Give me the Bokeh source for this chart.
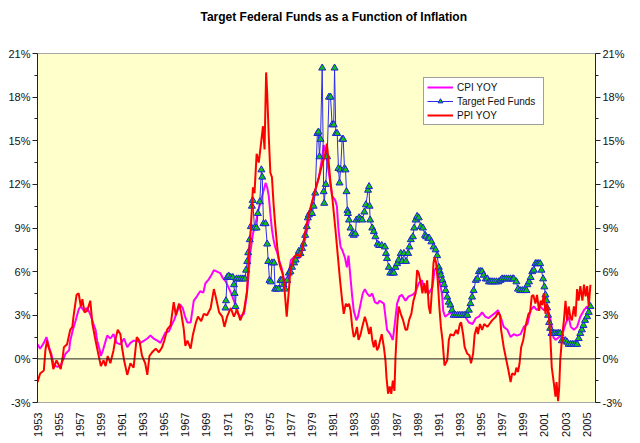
import math
from bokeh.plotting import figure
from bokeh.models import Range1d, LinearAxis, FixedTicker, Span, Legend, LegendItem, Title
from bokeh.embed import file_html
from bokeh.resources import INLINE

title_text = "Target Federal Funds as a Function of Inflation"
year_ticks = list(range(1953, 2006, 2))
pct_ticks = [-3, 0, 3, 6, 9, 12, 15, 18, 21]
pct_minor = [-1.5, 1.5, 4.5, 7.5, 10.5, 13.5, 16.5, 19.5]
pct_labels = {t: f"{t}%" for t in pct_ticks}

ppi_years = [
    1953.0, 1953.25, 1953.6, 1953.75, 1953.9, 1954.05, 1954.3, 1954.5, 1954.8, 1955.2,
    1955.4, 1955.5, 1955.8, 1956.1, 1956.3, 1956.4, 1956.7, 1956.9, 1957.1, 1957.25,
    1957.45, 1957.7, 1958.0, 1958.2, 1958.5, 1958.8, 1959.0, 1959.25, 1959.45, 1959.65,
    1959.9, 1960.2, 1960.35, 1960.6, 1960.85, 1961.0, 1961.2, 1961.5, 1961.8, 1962.1,
    1962.4, 1962.65, 1962.9, 1963.2, 1963.4, 1963.6, 1963.85, 1964.2, 1964.5, 1964.8,
    1965.0, 1965.3, 1965.6, 1965.9, 1966.1, 1966.4, 1966.6, 1966.85, 1967.0, 1967.2,
    1967.5, 1967.7, 1968.0, 1968.2, 1968.5, 1968.75, 1969.05, 1969.4, 1969.7, 1969.9,
    1970.2, 1970.5, 1970.7, 1970.95, 1971.3, 1971.6, 1971.9, 1972.2, 1972.55, 1972.85,
    1973.0, 1973.2, 1973.4, 1973.55, 1973.75, 1973.95, 1974.1, 1974.35, 1974.5, 1974.65,
    1974.75, 1974.9, 1975.05, 1975.2, 1975.35, 1975.5, 1975.7, 1975.85, 1976.0, 1976.2,
    1976.35, 1976.5, 1976.6, 1976.8, 1976.95, 1977.3, 1977.6, 1977.9, 1978.15, 1978.4,
    1978.7, 1979.0, 1979.3, 1979.65, 1980.0, 1980.2, 1980.4, 1980.55, 1980.75, 1980.9,
    1981.2, 1981.5, 1981.65, 1981.85, 1982.0, 1982.2, 1982.35, 1982.5, 1982.65, 1982.8,
    1982.95, 1983.1, 1983.25, 1983.4, 1983.6, 1983.75, 1984.0, 1984.2, 1984.4, 1984.55,
    1984.7, 1984.85, 1985.0, 1985.15, 1985.3, 1985.45, 1985.6, 1985.8, 1985.95, 1986.05,
    1986.2, 1986.35, 1986.5, 1986.65, 1986.8, 1986.9, 1987.05, 1987.2, 1987.4, 1987.6,
    1987.85, 1988.0, 1988.2, 1988.4, 1988.6, 1988.8, 1988.95, 1989.1, 1989.3, 1989.45,
    1989.6, 1989.75, 1989.9, 1990.05, 1990.2, 1990.35, 1990.5, 1990.6, 1990.75, 1990.9,
    1991.05, 1991.2, 1991.35, 1991.54, 1991.8, 1991.95, 1992.1, 1992.4, 1992.65, 1992.8,
    1993.0, 1993.12, 1993.3, 1993.45, 1993.7, 1993.9, 1994.05, 1994.25, 1994.4, 1994.6,
    1994.7, 1994.9, 1995.1, 1995.3, 1995.6, 1995.8, 1996.05, 1996.4, 1996.6, 1996.8,
    1996.9, 1997.15, 1997.4, 1997.6, 1997.8, 1997.95, 1998.2, 1998.35, 1998.5, 1998.65,
    1998.8, 1999.0, 1999.2, 1999.35, 1999.5, 1999.65, 1999.8, 1999.95, 2000.15, 2000.3,
    2000.5, 2000.65, 2000.8, 2000.95, 2001.1, 2001.25, 2001.4, 2001.55, 2001.7, 2001.9,
    2002.05, 2002.15, 2002.3, 2002.4, 2002.5, 2002.7, 2002.85, 2003.0, 2003.15, 2003.3,
    2003.45, 2003.6, 2003.8, 2003.95, 2004.1, 2004.25, 2004.4, 2004.6, 2004.75, 2004.9,
    2005.05, 2005.2, 2005.36,
]
ppi_values = [
    -1.6, -1.0, -0.8, 0.6, 1.25, 0.8, 0.2, -0.7, -0.1, -0.7,
    0.2, 0.8, 1.0, 2.0, 2.2, 2.85, 4.4, 4.5, 3.6, 4.1,
    3.2, 3.3, 4.0, 2.4, 1.25, 0.2, -0.5, -0.1, -0.5, 0.2,
    -0.3, 0.6, 1.25, 2.0, 1.7, 0.8, -0.1, -1.1, -0.3, -0.6,
    1.5, 1.25, 0.2, -0.3, -1.1, 0.2, 0.45, 0.7, 0.45, 0.8,
    1.25, 2.05, 2.3, 3.9, 3.0, 3.8, 3.2, 2.05, 0.9, 1.25,
    0.7, 1.6, 2.5, 2.9, 2.6, 3.1, 3.0, 3.5, 4.8, 4.2,
    3.2, 2.9, 2.2, 2.9, 3.5, 2.9, 3.4, 2.65, 3.3, 4.7,
    7.0, 8.9, 11.8, 11.4, 14.1, 13.5, 14.4, 16.0, 14.4, 19.7,
    18.3, 15.3, 12.8, 12.5, 10.7, 9.3, 7.7, 6.8, 6.3, 5.9,
    5.2, 3.8, 2.9, 4.7, 6.1, 7.0, 7.2, 7.0, 7.9, 8.9,
    10.0, 10.8, 11.6, 12.5, 13.5, 13.9, 14.8, 13.7, 12.1, 11.2,
    9.0, 6.6, 5.4, 4.0, 3.1, 3.8, 3.6, 3.8, 3.3, 2.2,
    1.5, 1.7, 2.2, 1.3, 1.7, 2.2, 2.9, 2.4, 1.7, 2.2,
    1.3, 0.8, 1.3, 0.6, 0.8, 1.3, 1.7, 0.8, -0.1, -1.3,
    -2.4, -1.9, -2.4, -1.5, -2.2, 0.1, 2.2, 3.6, 3.1, 2.7,
    2.0, 2.0, 2.7, 3.1, 4.0, 4.5, 6.1, 5.9, 5.2, 4.5,
    5.2, 4.5, 5.4, 3.6, 3.1, 4.7, 6.6, 7.0, 6.6, 5.4,
    3.6, 2.2, 1.3, -0.45, -0.1, 1.3, 1.7, 1.6, 2.0, 1.7,
    2.4, 2.5, 1.7, 0.8, 0.35, 0.25, -0.3, 0.35, 1.7, 2.2,
    1.7, 2.4, 2.0, 2.4, 2.2, 2.4, 2.65, 2.9, 3.2, 3.0,
    2.0, 0.8, -0.1, -0.8, -1.6, -1.0, -1.1, -0.6, -0.9, -0.3,
    0.8, 1.3, 2.2, 2.65, 3.1, 3.2, 4.3, 4.4, 3.8, 4.4,
    3.3, 4.0, 3.7, 4.5, 3.1, 3.8, 3.1, 1.7, -0.6, -1.7,
    -2.6, -1.6, -2.9, -2.0, -0.1, 1.7, 2.65, 4.0, 2.65, 3.6,
    2.9, 2.65, 3.6, 2.9, 4.8, 4.0, 5.0, 4.0, 5.1, 4.3,
    5.0, 3.6, 5.1,
]

cpi_years = [
    1953.0, 1953.25, 1953.6, 1953.85, 1954.1, 1954.3, 1954.55, 1954.9, 1955.2, 1955.4,
    1955.65, 1956.0, 1956.1, 1956.35, 1956.6, 1956.9, 1957.1, 1957.4, 1957.65, 1957.85,
    1958.05, 1958.3, 1958.5, 1958.65, 1958.9, 1959.0, 1959.2, 1959.4, 1959.6, 1959.9,
    1960.2, 1960.5, 1960.85, 1961.2, 1961.5, 1961.8, 1962.1, 1962.45, 1962.75, 1963.1,
    1963.4, 1963.7, 1964.0, 1964.35, 1964.65, 1964.9, 1965.1, 1965.45, 1965.75, 1965.95,
    1966.2, 1966.5, 1966.75, 1967.0, 1967.2, 1967.5, 1967.8, 1968.1, 1968.4, 1968.7,
    1968.9, 1969.2, 1969.5, 1969.7, 1970.0, 1970.3, 1970.55, 1970.8, 1971.1, 1971.4,
    1971.65, 1971.9, 1972.2, 1972.55, 1972.8, 1973.0, 1973.15, 1973.4, 1973.65, 1973.9,
    1974.1, 1974.35, 1974.6, 1974.75, 1974.9, 1975.05, 1975.2, 1975.35, 1975.5, 1975.7,
    1975.95, 1976.1, 1976.3, 1976.55, 1976.8, 1977.0, 1977.3, 1977.6, 1977.9, 1978.15,
    1978.4, 1978.7, 1979.0, 1979.3, 1979.65, 1979.95, 1980.1, 1980.3, 1980.65, 1980.9,
    1981.2, 1981.35, 1981.5, 1981.7, 1981.85, 1982.1, 1982.3, 1982.45, 1982.6, 1982.8,
    1982.95, 1983.2, 1983.35, 1983.6, 1983.8, 1984.0, 1984.2, 1984.45, 1984.7, 1984.95,
    1985.2, 1985.4, 1985.6, 1985.8, 1985.95, 1986.1, 1986.4, 1986.65, 1986.8, 1987.05,
    1987.28, 1987.5, 1987.85, 1988.15, 1988.5, 1988.8, 1989.1, 1989.4, 1989.6, 1989.8,
    1990.05, 1990.4, 1990.6, 1990.85, 1991.05, 1991.3, 1991.42, 1991.6, 1991.95, 1992.3,
    1992.6, 1992.9, 1993.2, 1993.5, 1993.85, 1994.2, 1994.5, 1994.8, 1995.1, 1995.4,
    1995.7, 1996.05, 1996.4, 1996.6, 1996.85, 1997.15, 1997.5, 1997.8, 1998.1, 1998.4,
    1998.75, 1999.05, 1999.4, 1999.7, 2000.0, 2000.3, 2000.6, 2000.95, 2001.25, 2001.6,
    2001.85, 2002.05, 2002.4, 2002.7, 2003.0, 2003.3, 2003.5, 2003.8, 2004.1, 2004.4,
    2004.75, 2005.05, 2005.36,
]
cpi_values = [
    1.0, 0.7, 1.1, 1.5, 0.8, 0.35, -0.45, -0.55, -0.45, -0.1,
    0.35, 0.6, 1.25, 2.0, 2.6, 3.4, 3.6, 3.3, 3.5, 3.3,
    2.95, 2.4, 2.0, 1.25, 0.6, 0.2, 0.6, 1.1, 1.6, 1.4,
    1.7, 1.1, 1.0, 1.4, 0.8, 1.1, 1.25, 1.25, 1.1, 1.25,
    1.4, 1.6, 1.4, 1.25, 1.1, 1.5, 1.8, 1.9, 2.4, 2.7,
    3.2, 3.75, 3.5, 2.85, 2.5, 2.5, 4.0, 4.3, 4.65, 4.55,
    5.2, 5.45, 5.8, 6.1, 6.0, 5.9, 5.55, 5.35, 4.9, 4.4,
    3.9, 3.2, 2.9, 3.1, 4.3, 5.9, 7.3, 8.6, 9.3, 10.2,
    10.7, 11.4, 12.1, 11.8, 11.2, 10.0, 8.9, 8.2, 7.7, 7.3,
    6.6, 6.3, 5.6, 5.2, 5.9, 6.8, 7.0, 6.9, 7.0, 7.7,
    8.4, 9.5, 10.7, 11.6, 12.5, 13.8, 14.7, 14.2, 12.5, 11.2,
    10.9, 10.5, 8.9, 7.7, 7.5, 7.0, 6.3, 7.1, 5.9, 4.3,
    3.3, 2.65, 2.9, 3.8, 4.5, 4.8, 4.5, 4.3, 4.5, 3.9,
    3.8, 4.0, 3.9, 3.8, 2.9, 2.0, 1.7, 1.3, 2.2, 3.8,
    4.3, 4.4, 4.0, 4.3, 4.4, 4.6, 5.2, 5.4, 4.95, 4.95,
    4.5, 4.95, 6.1, 6.3, 5.4, 4.5, 3.3, 2.9, 3.1, 3.2,
    3.0, 3.1, 3.0, 2.9, 2.5, 2.4, 2.8, 2.9, 3.2, 2.9,
    2.8, 3.0, 3.2, 3.35, 2.9, 2.2, 2.0, 1.5, 1.7, 1.6,
    1.7, 2.2, 2.4, 3.35, 3.6, 3.35, 3.6, 3.35, 3.5, 2.65,
    1.5, 1.3, 1.5, 1.7, 2.4, 2.9, 2.2, 2.0, 2.2, 2.9,
    3.35, 3.6, 3.2,
]

fed_years = [
    1970.8, 1970.85, 1970.95, 1971.1, 1971.3, 1971.5, 1971.6, 1971.66, 1971.75, 1971.85,
    1972.05, 1972.25, 1972.45, 1972.65, 1972.75, 1972.86, 1972.95, 1973.1, 1973.2, 1973.3,
    1973.38, 1973.55, 1973.75, 1973.87, 1974.05, 1974.2, 1974.28, 1974.4, 1974.6, 1974.75,
    1974.85, 1974.97, 1975.1, 1975.2, 1975.4, 1975.5, 1975.65, 1975.85, 1976.0, 1976.15,
    1976.3, 1976.45, 1976.65, 1976.8, 1976.95, 1977.1, 1977.3, 1977.45, 1977.6, 1977.75,
    1977.9, 1978.05, 1978.2, 1978.35, 1978.5, 1978.6, 1978.7, 1978.85, 1979.0, 1979.15,
    1979.3, 1979.5, 1979.6, 1979.7, 1979.8, 1979.96, 1980.1, 1980.15, 1980.3, 1980.43,
    1980.6, 1980.75, 1980.9, 1981.05, 1981.13, 1981.25, 1981.38, 1981.5, 1981.6, 1981.7,
    1981.85, 1981.95, 1982.07, 1982.17, 1982.26, 1982.35, 1982.4, 1982.5, 1982.64, 1982.8,
    1982.95, 1983.1, 1983.2, 1983.45, 1983.6, 1983.75, 1983.95, 1984.1, 1984.3, 1984.4,
    1984.45, 1984.5, 1984.7, 1984.85, 1985.0, 1985.2, 1985.35, 1985.6, 1985.9, 1986.0,
    1986.1, 1986.27, 1986.4, 1986.6, 1986.75, 1986.9, 1987.06, 1987.2, 1987.4, 1987.55,
    1987.7, 1987.9, 1988.1, 1988.22, 1988.35, 1988.55, 1988.67, 1988.8, 1988.95, 1989.1,
    1989.3, 1989.5, 1989.7, 1989.8, 1990.0, 1990.1, 1990.3, 1990.5, 1990.7, 1990.85,
    1991.0, 1991.1, 1991.2, 1991.35, 1991.5, 1991.65, 1991.8, 1991.95, 1992.1, 1992.25,
    1992.4, 1992.6, 1992.8, 1993.0, 1993.2, 1993.4, 1993.6, 1993.7, 1993.85, 1994.0,
    1994.15, 1994.3, 1994.5, 1994.65, 1994.8, 1994.95, 1995.1, 1995.25, 1995.45, 1995.6,
    1995.75, 1995.9, 1996.05, 1996.25, 1996.45, 1996.65, 1996.85, 1997.0, 1997.2, 1997.4,
    1997.6, 1997.8, 1998.0, 1998.1, 1998.35, 1998.5, 1998.7, 1998.9, 1999.1, 1999.3,
    1999.4, 1999.55, 1999.7, 1999.85, 2000.0, 2000.15, 2000.3, 2000.45, 2000.6, 2000.72,
    2000.88, 2001.0, 2001.1, 2001.2, 2001.26, 2001.35, 2001.45, 2001.55, 2001.67, 2001.85,
    2002.0, 2002.2, 2002.35, 2002.5, 2002.65, 2002.85, 2003.0, 2003.15, 2003.3, 2003.5,
    2003.7, 2003.9, 2004.1, 2004.25, 2004.4, 2004.55, 2004.7, 2004.85, 2005.05, 2005.2,
    2005.36,
]
fed_values = [
    3.5, 4.0, 5.6, 5.7, 5.6, 5.6, 5.1, 4.5, 3.6, 5.5,
    5.5, 5.5, 5.5, 5.5, 6.1, 6.7, 7.3, 8.2, 9.1, 10.5,
    10.9, 9.0, 9.0, 10.0, 10.8, 13.0, 12.5, 9.3, 9.3, 7.9,
    6.7, 5.4, 5.3, 6.6, 6.6, 4.8, 4.8, 4.8, 5.4, 5.4,
    5.1, 4.8, 5.4, 5.9, 6.0, 6.3, 6.6, 6.8, 7.1, 7.4,
    7.25, 7.6, 7.9, 8.5, 9.1, 9.7, 9.9, 10.1, 10.0, 10.5,
    11.4, 15.5, 15.6, 13.9, 15.1, 20.0, 11.5, 10.7, 12.0, 13.9,
    18.0, 18.0, 16.1, 16.1, 20.0, 15.5, 15.5, 13.1, 12.1, 13.0,
    15.1, 15.1, 13.1, 13.0, 11.5, 10.2, 10.0, 9.55, 9.0, 8.6,
    8.5, 8.6, 9.55, 9.7, 9.6, 9.55, 10.1, 10.6, 11.6, 11.85,
    10.5, 9.55, 9.0, 8.75, 8.4, 7.9, 7.8, 7.8, 7.7, 7.25,
    6.9, 6.3, 5.9, 5.9, 5.9, 6.3, 6.55, 6.8, 7.25, 6.7,
    7.25, 6.7, 7.25, 7.7, 8.2, 8.4, 9.0, 9.55, 9.8, 9.7,
    9.1, 9.0, 8.5, 8.4, 8.3, 8.3, 8.05, 7.7, 7.5, 7.1,
    6.3, 6.0, 5.75, 5.4, 5.1, 4.7, 4.25, 3.9, 3.7, 3.35,
    3.0, 3.0, 3.0, 3.0, 3.0, 3.0, 3.0, 3.0, 3.35, 3.8,
    4.25, 4.7, 5.4, 5.5, 6.0, 6.0, 6.0, 5.75, 5.5, 5.5,
    5.3, 5.3, 5.3, 5.3, 5.3, 5.3, 5.4, 5.5, 5.5, 5.5,
    5.5, 5.5, 5.5, 5.5, 5.3, 4.8, 4.7, 4.7, 4.7, 4.7,
    5.1, 5.3, 5.6, 6.0, 6.1, 6.55, 6.55, 6.55, 6.55, 6.1,
    5.5, 4.95, 4.4, 4.0, 3.5, 3.0, 2.5, 2.1, 1.75, 1.75,
    1.75, 1.75, 1.75, 1.75, 1.25, 1.25, 1.25, 1.15, 1.0, 1.0,
    1.0, 1.0, 1.0, 1.4, 1.75, 2.0, 2.3, 2.65, 2.9, 3.2,
    3.6,
]

FONT = "Liberation Sans"

p = figure(width=630, height=440, x_range=Range1d(1953.0, 2005.84), y_range=Range1d(-3, 21),
           output_backend="svg", toolbar_location=None,
           min_border_left=37, min_border_right=35, min_border_top=53, min_border_bottom=38)
p.background_fill_color = "#FFFFCC"
p.border_fill_color = "white"
p.outline_line_color = "#A8A8A8"
p.xgrid.visible = False
p.ygrid.visible = False

# invisible spacer between the frame and the title
p.add_layout(Title(text=" ", text_font=FONT, text_font_size="12px", standoff=7), "above")

p.title.text = title_text
p.title.text_font = FONT
p.title.text_font_size = "12px"
p.title.text_font_style = "bold"
p.title.text_color = "#000000"
p.title.align = "left"
p.title.offset = 163
p.title.vertical_align = "bottom"
p.title.standoff = 14

# x axis
xa = p.xaxis[0]
xa.ticker = FixedTicker(ticks=year_ticks)
xa.major_label_orientation = math.pi / 2
xa.major_label_text_font = FONT
xa.major_label_text_font_size = "11px"
xa.major_label_text_color = "#111111"
xa.major_tick_out = 0
xa.major_tick_in = 0
xa.minor_tick_out = 0
xa.minor_tick_in = 0
xa.major_label_standoff = 10
xa.axis_line_color = "#A8A8A8"


def style_y(ax):
    ax.ticker = FixedTicker(ticks=pct_ticks, minor_ticks=pct_minor)
    ax.major_label_overrides = pct_labels
    ax.major_label_text_font = FONT
    ax.major_label_text_font_size = "11px"
    ax.major_label_text_color = "#111111"
    ax.axis_line_color = "#222222"
    ax.major_tick_line_color = "#222222"
    ax.minor_tick_line_color = "#222222"
    ax.major_tick_out = 5
    ax.major_tick_in = 0
    ax.minor_tick_out = 3
    ax.minor_tick_in = 0
    ax.major_label_standoff = 2


style_y(p.yaxis[0])
ry = LinearAxis()
style_y(ry)
p.add_layout(ry, "right")

p.add_layout(Span(location=0, dimension="width", line_color="#222222", line_width=1))

cpi_r = p.line(cpi_years, cpi_values, line_color="#FF00FF", line_width=2)
fed_l = p.line(fed_years, fed_values, line_color="#2B2BF0", line_width=1)
fed_m = p.scatter(fed_years, fed_values, marker="triangle", size=7,
                  fill_color="#10C010", line_color="#2020E0", line_width=1)
ppi_r = p.line(ppi_years, ppi_values, line_color="#FF0000", line_width=2)

legend = Legend(items=[
    LegendItem(label="CPI YOY", renderers=[cpi_r]),
    LegendItem(label="Target Fed Funds", renderers=[fed_l, fed_m]),
    LegendItem(label="PPI YOY", renderers=[ppi_r]),
], location=(386, 277))
legend.label_text_font = FONT
legend.label_text_font_size = "10px"
legend.label_text_color = "#111111"
legend.padding = 3
legend.spacing = 2
legend.margin = 0
legend.glyph_width = 26
legend.glyph_height = 12
legend.label_height = 12
legend.label_standoff = 4
legend.label_width = 83
legend.border_line_color = "#404040"
legend.border_line_width = 1
legend.background_fill_color = "white"
legend.background_fill_alpha = 1.0
p.add_layout(legend, "center")

open("out.html", "w").write(file_html(p, INLINE))
